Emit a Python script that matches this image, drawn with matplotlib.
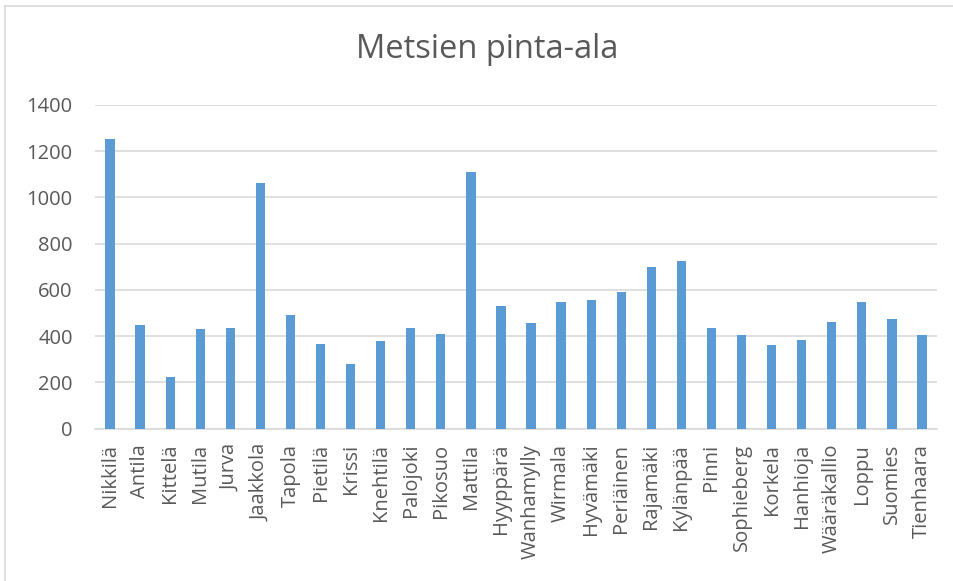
import matplotlib
matplotlib.use("Agg")
import matplotlib.pyplot as plt
from matplotlib.lines import Line2D

# Data
names = ["Nikkilä", "Antila", "Kittelä", "Mutila", "Jurva", "Jaakkola",
         "Tapola", "Pietilä", "Krissi", "Knehtilä", "Palojoki", "Pikosuo",
         "Mattila", "Hyyppärä", "Wanhamylly", "Wirmala", "Hyvämäki",
         "Periäinen", "Rajamäki", "Kylänpää", "Pinni", "Sophieberg",
         "Korkela", "Hanhioja", "Wääräkallio", "Loppu", "Suomies",
         "Tienhaara"]
areas = [1254, 446, 221, 430, 436, 1062, 491, 365, 281, 377, 437, 408,
         1109, 531, 455, 546, 556, 589, 699, 725, 437, 405, 362, 385,
         463, 548, 476, 404]
yticks = [0, 200, 400, 600, 800, 1000, 1200, 1400]

text_color = "#595959"
grid_color = "#D9D9D9"
bar_color = "#5B9BD5"

plt.rcParams["font.family"] = ["Open Sans", "DejaVu Sans"]

W, H = 954, 581
fig = plt.figure(figsize=(W / 100, H / 100), dpi=100)
ax = fig.add_axes([95 / W, 1 - 428.5 / H, 842 / W, 323.5 / H])

x = range(len(names))
ax.bar(x, areas, width=0.31, color=bar_color, zorder=3)

ax.set_xlim(-0.5, len(names) - 0.5)
ax.set_ylim(0, 1400)
ax.set_yticks(yticks)
ax.set_xticks(list(x))
ax.set_xticklabels(names, rotation=90)

ax.grid(axis="y", color=grid_color, linewidth=1.2, zorder=0)
for side in ["top", "right", "left"]:
    ax.spines[side].set_visible(False)
ax.spines["bottom"].set_color(grid_color)
ax.spines["bottom"].set_linewidth(1.2)
ax.tick_params(axis="both", length=0, colors=text_color, labelsize=14.5)
ax.tick_params(axis="y", pad=16)
ax.tick_params(axis="x", pad=11)

fig.text(487 / W, 1 - 49 / H, "Metsien pinta-ala", ha="center",
         va="center", fontsize=23.5, color=text_color)

# chart-area border: only the left and top edges fall inside the image
bx, by = 5.5 / W, 1 - 5.5 / H
fig.add_artist(Line2D([bx, bx], [0, by], transform=fig.transFigure,
                      color=grid_color, linewidth=1.2))
fig.add_artist(Line2D([bx, 1], [by, by], transform=fig.transFigure,
                      color=grid_color, linewidth=1.2))

fig.savefig("out.png", dpi=100)
